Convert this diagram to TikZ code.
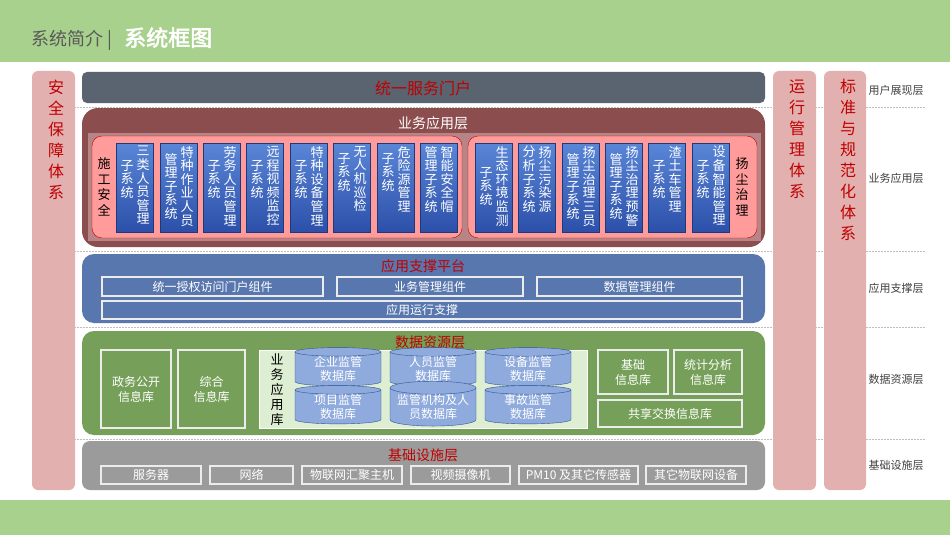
\documentclass[tikz,border=0pt]{standalone}
\usepackage{fontspec}
\setmainfont{Noto Sans CJK SC}
\newfontfamily\boldcjk{Noto Sans CJK SC}[FakeBold=2.5]
\usetikzlibrary{shapes.geometric}
\definecolor{hdr}{HTML}{A9D18E}
\definecolor{pinkcol}{HTML}{E3B0B0}
\definecolor{redtxt}{HTML}{C00000}
\definecolor{topbar}{HTML}{5A6370}
\definecolor{biz}{HTML}{8B4D4D}
\definecolor{bizin}{HTML}{B78585}
\definecolor{pinkp}{HTML}{FF9B9B}
\definecolor{sup}{HTML}{5877AE}
\definecolor{dat}{HTML}{76A05A}
\definecolor{datin}{HTML}{DDEED2}
\definecolor{inf}{HTML}{9B9B9B}
\definecolor{cyl}{HTML}{8FAADC}
\definecolor{cylb}{HTML}{2F5597}
\definecolor{btop}{HTML}{5A86D6}
\definecolor{bbot}{HTML}{2C50AA}
\tikzset{
 x=1pt,y=-1pt,
 band/.style={rounded corners=6pt,fill=pinkcol,draw=none},
 vtext/.style={font=\fontsize{16}{21}\selectfont,text=redtxt,align=center},
 ltitle/.style={font=\fontsize{14}{16}\selectfont,text=redtxt},
 wbox/.style={draw=white!85!gray,line width=1.2pt,font=\fontsize{12}{15}\selectfont,text=white,align=center,inner sep=0pt},
 side/.style={font=\fontsize{11}{13}\selectfont,text=black!75},
 sep/.style={densely dotted,draw=black!25,line width=0.5pt},
 bcol/.style={font=\fontsize{13}{13.6}\selectfont,text=white,align=center,anchor=north,inner sep=0pt},
}
\newcommand\bbox[5]{%
 \node[draw=bbot!70!black,top color=btop,bottom color=bbot,inner sep=0pt,minimum width=37pt,minimum height=89pt] (#5) at (#1+18.5,187.5) {};
 \node[bcol] at (#1+27,146) {#2};
 \node[bcol] at (#1+11,#4) {#3};
}
\begin{document}
\begin{tikzpicture}
\useasboundingbox (0,0) rectangle (950,535);
\fill[white] (0,0) rectangle (950,535);
\fill[hdr] (0,0) rectangle (950,62);
\fill[hdr] (0,500) rectangle (950,535);
\node[anchor=base west,font=\fontsize{18}{20}\selectfont,text=black!65,inner sep=0] (t1) at (31,46) {系统简介 |};
\node[anchor=base west,font=\boldcjk\fontsize{22}{24}\selectfont,text=white,inner sep=0] (t2) at (124,46) {系统框图};
% dotted separators
\foreach \yy in {107,251,327,439} \draw[sep] (75,\yy) -- (925,\yy);
% side bands
\node[band,minimum width=43pt,minimum height=419pt,inner sep=0] (aq) at (53.5,280.5) {};
\node[vtext,anchor=north] at (56,76) {安\\全\\保\\障\\体\\系};
\node[band,minimum width=43pt,minimum height=419pt,inner sep=0] (yx) at (794.5,280.5) {};
\node[vtext,anchor=north] at (797,76) {运\\行\\管\\理\\体\\系};
\node[band,minimum width=42pt,minimum height=419pt,inner sep=0] (bz) at (845,280.5) {};
\node[vtext,anchor=north] at (848,76) {标\\准\\与\\规\\范\\化\\体\\系};
% right labels
\node[side] (s1) at (896,90) {用户展现层};
\node[side] (s2) at (896,178) {业务应用层};
\node[side] (s3) at (896,288) {应用支撑层};
\node[side] (s4) at (896,379) {数据资源层};
\node[side] (s5) at (896,465) {基础设施层};
% top bar
\fill[topbar,rounded corners=5pt] (82,72) rectangle (765,103);
\node[ltitle,font=\fontsize{16}{18}\selectfont] (portal) at (423,88) {统一服务门户};
% business layer
\fill[biz,rounded corners=16pt] (82,108) rectangle (765,247);
\node[font=\fontsize{14}{16}\selectfont,text=white] (bt) at (433,123) {业务应用层};
\fill[bizin] (88,133) rectangle (761,241);
\draw[redtxt,fill=pinkp,rounded corners=10pt] (92,136) rectangle (462,238);
\draw[redtxt,fill=pinkp,rounded corners=10pt] (468,136) rectangle (757,238);
\node[font=\fontsize{13}{15.5}\selectfont,align=center] (sg) at (104,187) {施\\工\\安\\全};
\node[font=\fontsize{13}{15.5}\selectfont,align=center] (yc) at (742,187) {扬\\尘\\治\\理};
\bbox{116}{三\\类\\人\\员\\管\\理}{子\\系\\统}{160}{b1}
\bbox{160}{特\\种\\作\\业\\人\\员}{管\\理\\子\\系\\统}{153}{b2}
\bbox{203}{劳\\务\\人\\员\\管\\理}{子\\系\\统}{160}{b3}
\bbox{246}{远\\程\\视\\频\\监\\控}{子\\系\\统}{160}{b4}
\bbox{290}{特\\种\\设\\备\\管\\理}{子\\系\\统}{160}{b5}
\bbox{333}{无\\人\\机\\巡\\检}{子\\系\\统}{153}{b6}
\bbox{377}{危\\险\\源\\管\\理}{子\\系\\统}{153}{b7}
\bbox{420}{智\\能\\安\\全\\帽}{管\\理\\子\\系\\统}{146}{b8}
\bbox{475}{生\\态\\环\\境\\监\\测}{子\\系\\统}{167}{b9}
\bbox{518}{扬\\尘\\污\\染\\源}{分\\析\\子\\系\\统}{146}{b10}
\bbox{562}{扬\\尘\\治\\理\\三\\员}{管\\理\\子\\系\\统}{153}{b11}
\bbox{605}{扬\\尘\\治\\理\\预\\警}{管\\理\\子\\系\\统}{153}{b12}
\bbox{648}{渣\\土\\车\\管\\理}{子\\系\\统}{160}{b13}
\bbox{692}{设\\备\\智\\能\\管\\理}{子\\系\\统}{160}{b14}
% support layer
\fill[sup,rounded corners=12pt] (82,254) rectangle (765,323);
\node[ltitle] (st) at (423,266) {应用支撑平台};
\node[wbox,minimum width=221pt,minimum height=19pt] (c1) at (212.5,286.5) {统一授权访问门户组件};
\node[wbox,minimum width=186pt,minimum height=19pt] (c2) at (430,286.5) {业务管理组件};
\node[wbox,minimum width=205pt,minimum height=19pt] (c3) at (639.5,286.5) {数据管理组件};
\node[wbox,minimum width=640pt,minimum height=18pt] (c4) at (422,310) {应用运行支撑};
% data layer
\fill[dat,rounded corners=12pt] (82,331) rectangle (765,435);
\node[ltitle] (dt) at (430,342) {数据资源层};
\node[wbox,minimum width=70pt,minimum height=78pt] (d1) at (136,389) {政务公开\\信息库};
\node[wbox,minimum width=67pt,minimum height=78pt] (d2) at (211.5,389) {综合\\信息库};
\node[draw=white,line width=1pt,fill=datin,minimum width=328pt,minimum height=78pt,inner sep=0] (dl) at (423,389) {};
\node[font=\fontsize{13}{15}\selectfont,align=center] (dlt) at (277,390) {业\\务\\应\\用\\库};
\foreach \cx/\cy/\txt/\nm in {338/369/企业监管\\数据库/e1,433/369/人员监管\\数据库/e2,528/369/设备监管\\数据库/e3,338/407/项目监管\\数据库/e4,433/407/监管机构及人\\员数据库/e5,528/407/事故监管\\数据库/e6}
  \node[cylinder,shape border rotate=90,aspect=0.18,draw=cylb,fill=cyl,minimum width=86pt,minimum height=33pt,inner sep=0,text=white,align=center,font=\fontsize{12}{14}\selectfont] (\nm) at (\cx,\cy) {\txt};
\node[wbox,minimum width=70pt,minimum height=44pt] (d3) at (633,372) {基础\\信息库};
\node[wbox,minimum width=68pt,minimum height=44pt] (d4) at (708,372) {统计分析\\信息库};
\node[wbox,minimum width=144pt,minimum height=27pt] (d5) at (670,413.5) {共享交换信息库};
% infrastructure
\fill[inf,rounded corners=8pt] (82,441) rectangle (765,490);
\node[ltitle] (it) at (423,455) {基础设施层};
\foreach \xa/\xb/\txt/\nm in {101/201/服务器/i1,210/293/网络/i2,302/402/物联网汇聚主机/i3,411/510/视频摄像机/i4,519/638/PM10 及其它传感器/i5,646/746/其它物联网设备/i6}
  \node[wbox,minimum width={\xb-\xa},minimum height=18pt] (\nm) at ({(\xa+\xb)/2},475) {\txt};
\end{tikzpicture}
\end{document}
